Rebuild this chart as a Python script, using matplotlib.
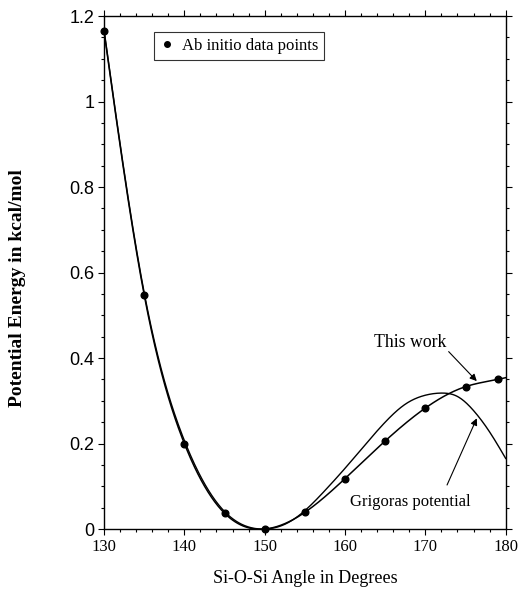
import numpy as np
import matplotlib
matplotlib.use("Agg")
import matplotlib.pyplot as plt
from matplotlib.ticker import MultipleLocator, FuncFormatter
from matplotlib.lines import Line2D

# Ab initio energies (kcal/mol) versus Si-O-Si angle (degrees)
abinitio_angle = [130, 135, 140, 145, 150, 155, 160, 165, 170, 175, 179]
abinitio_energy = [1.165, 0.548, 0.200, 0.037, 0.000, 0.039, 0.118, 0.206, 0.283, 0.333, 0.350]

# Fitted potential of this work (knots along the drawn curve)
this_work_angle = [130, 135, 140, 145, 150, 155, 160, 165, 170, 175, 179, 180]
this_work_energy = [1.165, 0.548, 0.200, 0.037, 0.000, 0.039, 0.118, 0.206, 0.283, 0.333, 0.350, 0.354]

# Grigoras potential (knots along the drawn curve)
grigoras_angle = [130, 135, 140, 145, 150, 152.5, 155, 157.5, 160, 162.5, 165, 167.5, 170, 172, 174, 176, 178, 180]
grigoras_energy = [1.168, 0.553, 0.207, 0.041, 0.000, 0.011, 0.043, 0.090, 0.142, 0.197, 0.250, 0.292, 0.313,
                   0.318, 0.310, 0.277, 0.227, 0.165]

x_ticks = [130, 140, 150, 160, 170, 180]
y_ticks = [0, 0.2, 0.4, 0.6, 0.8, 1.0, 1.2]


def natural_spline(xk, yk, xs):
    xk = np.asarray(xk, float)
    yk = np.asarray(yk, float)
    n = len(xk)
    h = np.diff(xk)
    A = np.zeros((n, n))
    b = np.zeros(n)
    A[0, 0] = A[-1, -1] = 1.0
    for i in range(1, n - 1):
        A[i, i - 1] = h[i - 1]
        A[i, i] = 2 * (h[i - 1] + h[i])
        A[i, i + 1] = h[i]
        b[i] = 6 * ((yk[i + 1] - yk[i]) / h[i] - (yk[i] - yk[i - 1]) / h[i - 1])
    M = np.linalg.solve(A, b)
    idx = np.clip(np.searchsorted(xk, xs) - 1, 0, n - 2)
    x0, x1 = xk[idx], xk[idx + 1]
    hh = x1 - x0
    t0 = x1 - xs
    t1 = xs - x0
    return (M[idx] * t0 ** 3 / (6 * hh) + M[idx + 1] * t1 ** 3 / (6 * hh)
            + (yk[idx] / hh - M[idx] * hh / 6) * t0
            + (yk[idx + 1] / hh - M[idx + 1] * hh / 6) * t1)


serif = "Liberation Serif"
sans = "Liberation Sans"

fig = plt.figure(figsize=(5.20, 5.94), dpi=100)
ax = fig.add_axes([0.200, 0.1094, 0.7725, 0.8636])

xs = np.linspace(130, 180, 600)
ax.plot(xs, natural_spline(this_work_angle, this_work_energy, xs), color="black", lw=1.1)
ax.plot(xs, natural_spline(grigoras_angle, grigoras_energy, xs), color="black", lw=1.0)
ax.plot(abinitio_angle, abinitio_energy, "o", color="black", ms=4.8, clip_on=False, zorder=5)

ax.set_xlim(130, 180)
ax.set_ylim(0, 1.2)
ax.xaxis.set_major_locator(MultipleLocator(10))
ax.xaxis.set_minor_locator(MultipleLocator(2))
ax.yaxis.set_major_locator(MultipleLocator(0.2))
ax.yaxis.set_minor_locator(MultipleLocator(0.05))
ax.set_xticks(x_ticks)
ax.set_yticks(y_ticks)
ax.yaxis.set_major_formatter(FuncFormatter(lambda v, p: f"{v:g}"))
ax.tick_params(which="both", direction="out", top=True, right=True, width=0.8, color="black")
ax.tick_params(which="major", length=4)
ax.tick_params(which="minor", length=2.5)
ax.tick_params(axis="x", labelsize=12, pad=3)
ax.tick_params(axis="y", labelsize=13, pad=3)
for lab in ax.get_xticklabels():
    lab.set_fontfamily(serif)
for lab in ax.get_yticklabels():
    lab.set_fontfamily(sans)
for sp in ax.spines.values():
    sp.set_linewidth(1.0)

ax.set_xlabel("Si-O-Si Angle in Degrees", fontsize=13, family=serif)
ax.xaxis.set_label_coords(0.5, -0.080)
ax.set_ylabel("Potential Energy in kcal/mol", fontsize=14, family=serif, fontweight="bold")
ax.yaxis.set_label_coords(-0.193, 0.47)

handle = Line2D([], [], marker="o", color="black", linestyle="none", markersize=4.0)
leg = ax.legend([handle], ["Ab initio data points"], loc="upper left",
                bbox_to_anchor=(0.1245, 0.968), prop={"family": serif, "size": 12},
                frameon=True, fancybox=False, handlelength=0.8, handletextpad=0.5,
                borderpad=0.35, borderaxespad=0)
leg.get_frame().set_edgecolor("black")
leg.get_frame().set_linewidth(0.8)

ax.text(168.1, 0.437, "This work", ha="center", va="center", fontsize=12.8, family=serif)
ax.text(168.1, 0.064, "Grigoras potential", ha="center", va="center", fontsize=12, family=serif)
arrow = dict(arrowstyle="-|>", color="black", lw=0.8, mutation_scale=10, shrinkA=0, shrinkB=0)
ax.annotate("", xy=(176.4, 0.346), xytext=(172.9, 0.415), arrowprops=arrow)
ax.annotate("", xy=(176.4, 0.259), xytext=(172.7, 0.103), arrowprops=arrow)

fig.savefig("out.png", dpi=100)
